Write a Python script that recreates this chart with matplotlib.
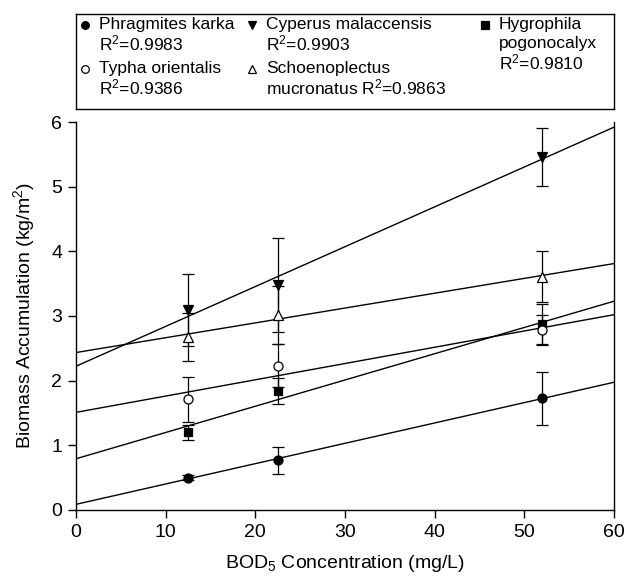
import numpy as np
import matplotlib.pyplot as plt

plt.rcParams['font.family'] = ['Liberation Sans', 'DejaVu Sans']
plt.rcParams['mathtext.fontset'] = 'custom'
plt.rcParams['mathtext.rm'] = 'Liberation Sans'
plt.rcParams['mathtext.it'] = 'Liberation Sans:italic'

# BOD5 concentration (mg/L)
bod = [12.5, 22.5, 52.0]

# biomass accumulation (kg/m2), mean and error per species
phragmites = [0.50, 0.77, 1.73]
phragmites_err = [0.04, 0.21, 0.41]
cyperus = [3.09, 3.48, 5.46]
cyperus_err = [0.56, 0.73, 0.45]
hygrophila = [1.20, 1.84, 2.87]
hygrophila_err = [0.12, 0.20, 0.31]
typha = [1.71, 2.23, 2.78]
typha_err = [0.35, 0.33, 0.23]
schoeno = [2.67, 3.02, 3.61]
schoeno_err = [0.37, 0.45, 0.39]

series = [
    (phragmites, phragmites_err, 'o', 'black', 6.5),
    (cyperus, cyperus_err, 'v', 'black', 7.5),
    (hygrophila, hygrophila_err, 's', 'black', 6),
    (typha, typha_err, 'o', 'white', 6.5),
    (schoeno, schoeno_err, '^', 'white', 7.5),
]

legend_labels = [
    ["Phragmites karka", "R$^2$=0.9983"],
    ["Cyperus malaccensis", "R$^2$=0.9903"],
    ["Hygrophila", "pogonocalyx", "R$^2$=0.9810"],
    ["Typha orientalis", "R$^2$=0.9386"],
    ["Schoenoplectus", "mucronatus R$^2$=0.9863"],
]

W, H = 627, 577
fig = plt.figure(figsize=(W / 100, H / 100), dpi=100)
ax = fig.add_axes([76 / W, 1 - 510 / H, 538 / W, 388 / H])

xfit = np.array([0, 60])
for vals, errs, m, fc, ms in series:
    k, b = np.polyfit(bod, vals, 1)
    ax.plot(xfit, k * xfit + b, color='black', lw=1.0, zorder=2)
    ax.errorbar(bod, vals, yerr=errs, fmt=m, color='black', mfc=fc, mec='black',
                ms=ms, mew=0.9, elinewidth=0.9, capsize=4, capthick=0.9, zorder=3)

ax.set_xlim(0, 60)
ax.set_ylim(0, 6)
ax.set_xticks(range(0, 61, 10))
ax.set_yticks(range(0, 7))
ax.spines['top'].set_visible(False)
for s in ['left', 'bottom', 'right']:
    ax.spines[s].set_linewidth(1.0)
ax.tick_params(direction='out', length=6, width=1.0, labelsize=14, pad=4)
ax.set_xlabel("BOD$_5$ Concentration (mg/L)", fontsize=14, labelpad=9)
ax.set_ylabel("Biomass Accumulation (kg/m$^2$)", fontsize=14, labelpad=10)

# legend box drawn by hand so markers sit beside the first text line
lax = fig.add_axes([76 / W, 1 - 109 / H, 538 / W, 95 / H])
lax.set_xlim(76, 614)
lax.set_ylim(109, 14)
lax.set_xticks([])
lax.set_yticks([])
for s in lax.spines.values():
    s.set_linewidth(1.0)

slots = [(85, 25), (252, 25), (485, 25), (85, 69), (252, 69)]
for (mx, my), (vals, errs, m, fc, ms), lines in zip(slots, series, legend_labels):
    lax.plot([mx], [my], marker=m, color='black', mfc=fc, mec='black',
             ms=ms * 0.85, mew=0.9, ls='none')
    for i, line in enumerate(lines):
        lax.text(mx + 14, my + i * 18.5, line, fontsize=12.5, va='center', ha='left')

fig.savefig("out.png", dpi=100)
